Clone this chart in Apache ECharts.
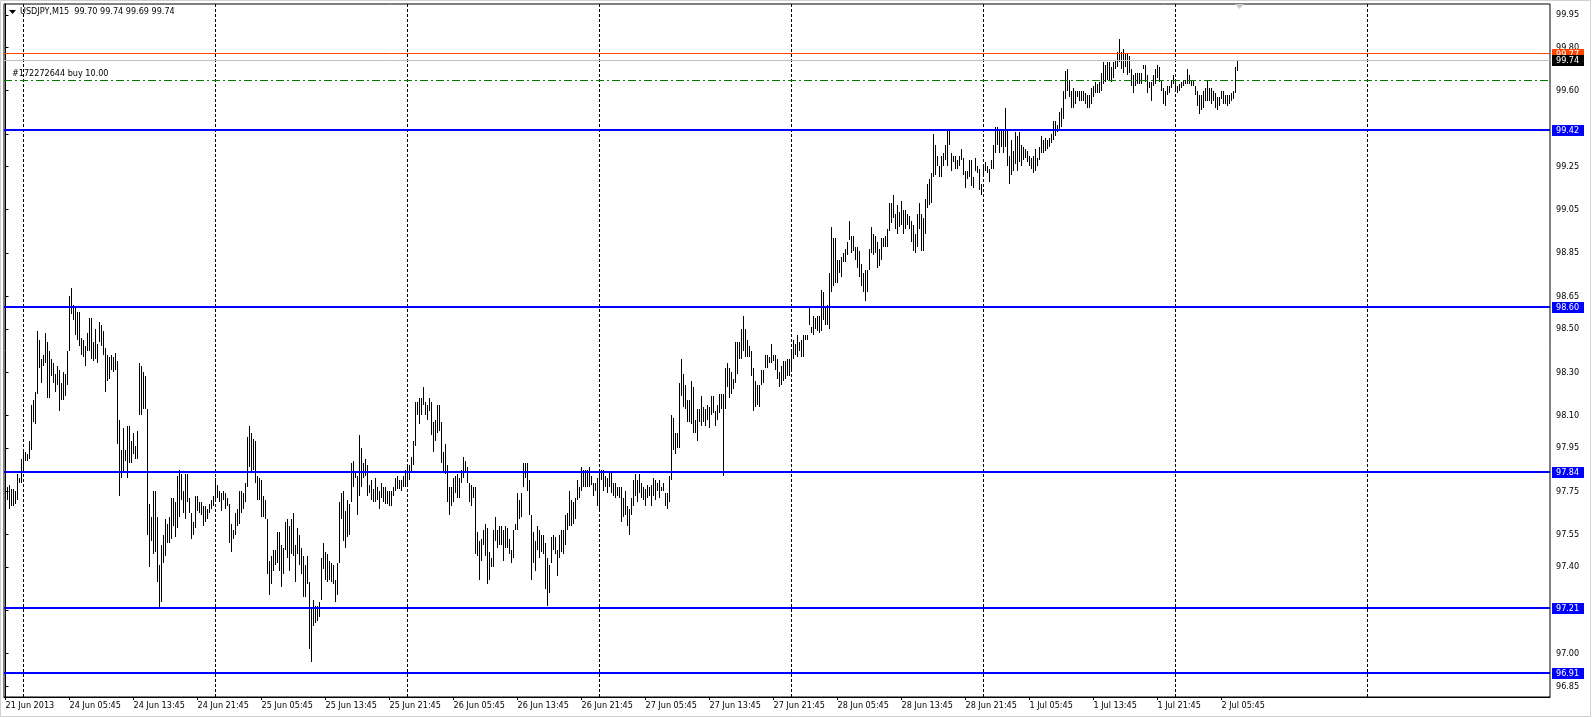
<!DOCTYPE html>
<html>
<head>
<meta charset="utf-8">
<script src="https://cdn.jsdelivr.net/npm/echarts@6/dist/echarts.min.js"></script>
<style>html,body{margin:0;padding:0;background:#fff;}#c{width:1592px;height:718px;}</style>
</head>
<body>
<div id="c"></div>
<script>
// ---- DATA ----
const symbolTitle = 'USDJPY,M15  99.70 99.74 99.69 99.74';
const orderText = '#172272644 buy 10.00';

// M15 bar highs (bar 0 = 21 Jun 2013 21:45)
const highs = [
97.77,97.77,97.78,97.76,97.76,97.75,97.83,97.81,97.90,97.93,
97.93,97.92,97.98,98.15,98.17,98.21,98.49,98.45,98.36,98.38,
98.48,98.44,98.40,98.36,98.34,98.29,98.33,98.31,98.25,98.30,
98.29,98.40,98.65,98.69,98.61,98.60,98.58,98.58,98.46,98.45,
98.42,98.48,98.55,98.55,98.44,98.50,98.43,98.53,98.52,98.49,
98.41,98.38,98.37,98.38,98.37,98.39,98.35,98.08,97.94,98.04,
97.94,98.05,98.05,97.98,98.02,97.96,98.03,98.34,98.33,98.30,
98.28,98.13,97.69,97.63,97.75,97.75,97.63,97.41,97.50,97.55,
97.62,97.60,97.63,97.72,97.72,97.70,97.82,97.85,97.83,97.75,
97.83,97.83,97.72,97.65,97.61,97.73,97.73,97.70,97.70,97.68,
97.68,97.67,97.69,97.71,97.73,97.81,97.78,97.75,97.74,97.75,
97.74,97.72,97.69,97.60,97.57,97.65,97.67,97.75,97.75,97.74,
97.79,98.00,98.05,98.02,97.99,97.98,97.82,97.81,97.80,97.73,
97.71,97.62,97.43,97.45,97.48,97.48,97.56,97.56,97.50,97.49,
97.61,97.62,97.59,97.62,97.65,97.50,97.58,97.55,97.49,97.45,
97.41,97.45,97.33,97.21,97.25,97.22,97.22,97.24,97.44,97.51,
97.47,97.46,97.43,97.42,97.41,97.34,97.42,97.70,97.74,97.75,
97.66,97.71,97.69,97.88,97.89,97.84,97.82,98.01,97.95,97.88,
97.90,97.87,97.78,97.80,97.76,97.81,97.77,97.75,97.79,97.77,
97.77,97.75,97.75,97.75,97.77,97.81,97.82,97.80,97.80,97.82,
97.85,97.87,97.87,97.91,97.98,98.16,98.16,98.18,98.18,98.23,
98.16,98.15,98.18,98.16,98.07,98.08,98.15,98.15,98.07,97.93,
97.97,97.87,97.77,97.77,97.81,97.82,97.83,97.81,97.85,97.91,
97.89,97.86,97.79,97.78,97.77,97.77,97.56,97.52,97.53,97.57,
97.60,97.58,97.47,97.44,97.57,97.63,97.57,97.59,97.59,97.57,
97.59,97.58,97.53,97.48,97.57,97.60,97.74,97.71,97.74,97.88,
97.88,97.88,97.80,97.64,97.56,97.52,97.59,97.57,97.55,97.55,
97.51,97.44,97.41,97.54,97.55,97.54,97.48,97.55,97.57,97.57,
97.64,97.65,97.75,97.71,97.70,97.72,97.80,97.77,97.86,97.85,
97.85,97.85,97.86,97.82,97.79,97.79,97.81,97.84,97.85,97.85,
97.82,97.81,97.84,97.84,97.79,97.79,97.77,97.77,97.77,97.72,
97.75,97.68,97.67,97.72,97.80,97.83,97.80,97.83,97.79,97.77,
97.76,97.78,97.77,97.78,97.81,97.80,97.79,97.80,97.77,97.79,
97.74,97.74,97.82,98.10,98.09,98.02,98.02,98.25,98.36,98.29,
98.24,98.17,98.17,98.26,98.23,98.08,98.13,98.13,98.19,98.14,
98.13,98.15,98.14,98.19,98.19,98.12,98.15,98.20,98.20,98.20,
98.32,98.34,98.32,98.30,98.27,98.44,98.44,98.44,98.50,98.56,
98.50,98.45,98.42,98.40,98.32,98.26,98.24,98.24,98.31,98.31,
98.38,98.38,98.37,98.43,98.38,98.38,98.36,98.30,98.33,98.35,
98.35,98.36,98.36,98.40,98.45,98.43,98.47,98.44,98.45,98.47,
98.47,98.47,98.60,98.51,98.56,98.55,98.56,98.56,98.68,98.67,
98.60,98.61,98.76,98.97,98.92,98.92,98.82,98.82,98.83,98.85,
98.87,98.90,99.00,98.93,98.93,98.88,98.88,98.86,98.80,98.76,
98.77,98.77,98.87,98.97,98.94,98.93,98.90,98.87,98.92,98.92,
98.93,98.96,99.08,99.08,99.12,99.03,99.07,99.04,99.09,99.05,
99.05,99.03,99.02,99.00,98.98,98.94,99.03,99.08,99.03,99.01,
99.10,99.17,99.19,99.22,99.40,99.35,99.30,99.25,99.30,99.31,
99.35,99.42,99.42,99.31,99.30,99.30,99.28,99.30,99.33,99.29,
99.23,99.23,99.28,99.28,99.20,99.29,99.25,99.24,99.17,99.26,
99.27,99.25,99.24,99.28,99.35,99.43,99.43,99.42,99.42,99.42,
99.52,99.42,99.30,99.37,99.32,99.41,99.39,99.41,99.35,99.34,
99.33,99.32,99.30,99.29,99.30,99.33,99.29,99.34,99.39,99.37,
99.38,99.37,99.38,99.40,99.46,99.46,99.44,99.50,99.52,99.60,
99.69,99.70,99.65,99.60,99.61,99.60,99.60,99.60,99.60,99.60,
99.59,99.58,99.58,99.61,99.62,99.64,99.63,99.64,99.68,99.73,
99.72,99.73,99.73,99.71,99.73,99.74,99.78,99.84,99.78,99.79,
99.77,99.77,99.76,99.70,99.67,99.68,99.68,99.68,99.68,99.72,
99.72,99.67,99.64,99.64,99.67,99.70,99.72,99.71,99.65,99.61,
99.60,99.62,99.62,99.65,99.67,99.64,99.62,99.63,99.64,99.65,
99.65,99.70,99.67,99.65,99.65,99.62,99.60,99.58,99.58,99.60,
99.61,99.65,99.61,99.61,99.60,99.59,99.57,99.57,99.60,99.60,
99.58,99.58,99.58,99.59,99.60,99.71,99.74
];

// M15 bar lows
const lows = [
97.67,97.71,97.67,97.68,97.68,97.69,97.71,97.79,97.79,97.84,
97.89,97.89,97.90,97.94,98.07,98.06,98.20,98.32,98.25,98.33,
98.34,98.18,98.18,98.28,98.25,98.21,98.24,98.12,98.17,98.17,
98.19,98.24,98.40,98.57,98.54,98.47,98.45,98.42,98.38,98.37,
98.33,98.40,98.40,98.36,98.35,98.36,98.34,98.44,98.42,98.38,
98.21,98.26,98.27,98.31,98.30,98.31,97.97,97.73,97.81,97.84,
97.89,97.81,97.88,97.88,97.92,97.90,97.90,98.10,98.10,98.13,
98.13,97.55,97.40,97.52,97.46,97.47,97.33,97.21,97.24,97.42,
97.45,97.51,97.51,97.53,97.59,97.54,97.58,97.63,97.71,97.65,
97.62,97.70,97.65,97.53,97.55,97.58,97.66,97.65,97.64,97.59,
97.61,97.62,97.65,97.67,97.68,97.70,97.72,97.70,97.66,97.71,
97.67,97.68,97.51,97.47,97.53,97.55,97.59,97.60,97.65,97.67,
97.70,97.77,97.86,97.84,97.85,97.79,97.71,97.71,97.63,97.63,
97.62,97.37,97.27,97.32,97.38,97.41,97.42,97.38,97.31,97.37,
97.48,97.44,97.38,97.46,97.45,97.33,97.46,97.41,97.37,97.26,
97.26,97.32,97.02,96.96,97.13,97.14,97.15,97.17,97.25,97.39,
97.34,97.33,97.34,97.33,97.32,97.24,97.27,97.42,97.62,97.52,
97.49,97.54,97.55,97.70,97.77,97.81,97.64,97.73,97.77,97.81,
97.82,97.73,97.74,97.71,97.70,97.70,97.71,97.67,97.72,97.70,
97.69,97.69,97.68,97.68,97.73,97.75,97.76,97.76,97.75,97.77,
97.77,97.77,97.80,97.84,97.87,97.96,98.10,98.06,98.10,98.15,
98.10,98.08,98.12,98.01,97.93,97.98,98.02,98.03,97.88,97.84,
97.83,97.70,97.64,97.68,97.70,97.74,97.72,97.72,97.79,97.81,
97.84,97.79,97.70,97.68,97.72,97.46,97.45,97.34,97.43,97.50,
97.45,97.32,97.34,97.40,97.40,97.52,97.49,97.50,97.50,97.43,
97.49,97.49,97.46,97.42,97.44,97.57,97.57,97.62,97.63,97.77,
97.81,97.75,97.64,97.34,97.42,97.38,97.48,97.44,97.47,97.46,
97.30,97.22,97.28,97.42,97.48,97.46,97.36,97.44,97.47,97.46,
97.50,97.57,97.59,97.59,97.60,97.62,97.71,97.72,97.75,97.77,
97.77,97.77,97.77,97.78,97.73,97.75,97.68,97.67,97.80,97.75,
97.77,97.74,97.77,97.74,97.73,97.72,97.73,97.72,97.61,97.63,
97.64,97.59,97.55,97.64,97.68,97.73,97.70,97.74,97.72,97.71,
97.68,97.72,97.73,97.68,97.73,97.71,97.75,97.72,97.75,97.75,
97.68,97.67,97.70,97.80,97.94,97.92,97.95,97.95,98.19,98.14,
98.13,98.07,98.07,98.06,98.02,98.02,97.98,98.07,98.05,98.07,
98.05,98.08,98.04,98.10,98.11,98.05,98.08,98.11,98.13,97.82,
98.13,98.23,98.18,98.20,98.22,98.25,98.29,98.36,98.36,98.40,
98.37,98.37,98.37,98.28,98.12,98.14,98.15,98.14,98.24,98.25,
98.32,98.32,98.34,98.34,98.35,98.31,98.27,98.23,98.24,98.26,
98.27,98.28,98.28,98.30,98.36,98.38,98.37,98.40,98.37,98.37,
98.45,98.45,98.52,98.48,98.47,98.50,98.49,98.48,98.49,98.54,
98.52,98.52,98.50,98.67,98.70,98.71,98.71,98.76,98.74,98.81,
98.81,98.84,98.91,98.85,98.86,98.82,98.78,98.74,98.70,98.67,
98.63,98.67,98.77,98.85,98.84,98.85,98.78,98.79,98.82,98.88,
98.88,98.88,98.95,98.99,99.01,98.96,98.94,98.97,98.98,98.94,
98.96,98.98,98.96,98.90,98.86,98.85,98.88,98.96,98.86,98.86,
98.94,99.06,99.07,99.08,99.20,99.21,99.25,99.20,99.20,99.25,
99.28,99.25,99.35,99.23,99.27,99.24,99.24,99.25,99.28,99.21,
99.15,99.19,99.20,99.16,99.15,99.23,99.22,99.14,99.12,99.20,
99.23,99.22,99.18,99.24,99.24,99.31,99.35,99.31,99.34,99.31,
99.34,99.25,99.17,99.21,99.23,99.26,99.23,99.27,99.25,99.28,
99.29,99.27,99.25,99.24,99.22,99.23,99.25,99.28,99.31,99.31,
99.32,99.33,99.34,99.36,99.37,99.39,99.41,99.42,99.43,99.47,
99.56,99.60,99.57,99.52,99.52,99.54,99.57,99.55,99.55,99.55,
99.54,99.52,99.52,99.54,99.57,99.59,99.59,99.59,99.60,99.63,
99.64,99.65,99.65,99.64,99.66,99.70,99.71,99.73,99.70,99.68,
99.71,99.67,99.68,99.62,99.59,99.62,99.63,99.63,99.63,99.70,
99.64,99.59,99.61,99.55,99.62,99.63,99.66,99.64,99.60,99.54,
99.53,99.58,99.59,99.61,99.63,99.60,99.59,99.60,99.61,99.62,
99.63,99.63,99.63,99.62,99.62,99.58,99.53,99.49,99.51,99.52,
99.55,99.55,99.55,99.54,99.55,99.52,99.51,99.53,99.56,99.54,
99.54,99.53,99.54,99.55,99.56,99.59,99.69
];

// time-axis labels, one every 32 bars (8 hours of M15)
const timeLabels = ['21 Jun 2013','24 Jun 05:45','24 Jun 13:45','24 Jun 21:45','25 Jun 05:45','25 Jun 13:45','25 Jun 21:45','26 Jun 05:45','26 Jun 13:45','26 Jun 21:45','27 Jun 05:45','27 Jun 13:45','27 Jun 21:45','28 Jun 05:45','28 Jun 13:45','28 Jun 21:45','1 Jul 05:45','1 Jul 13:45','1 Jul 21:45','2 Jul 05:45'];
const barsPerLabel = 32;
// day separators (bar index of each 00:00)
const daySeparatorBars = [9, 105, 201, 297, 393, 489, 585, 681];
const totalSlots = 773;

// price scale ticks
const priceTicks = [99.95, 99.80, 99.60, 99.40, 99.25, 99.05, 98.85, 98.65, 98.50, 98.30, 98.10, 97.95, 97.75, 97.55, 97.40, 97.20, 97.00, 96.85];
const priceMin = 96.80, priceMax = 100.00;

// horizontal levels
const supportLevels = [99.42, 98.60, 97.84, 97.21, 96.91];
const askLevel = 99.77;
const bidLevel = 99.74;
const orderLevel = 99.645;

// ---- CHART ----
const FONT = "'DejaVu Sans Condensed', 'DejaVu Sans', sans-serif";
const FS = 9;
const barData = highs.map((h, i) => [i, h, lows[i]]);
const labelBars = timeLabels.map((_, k) => k * barsPerLabel);

// level table built from the named values
const levelRows = [
  {value: orderLevel, kind: 'order'},
  {value: askLevel, kind: 'ask'},
  {value: bidLevel, kind: 'bid'}
].concat(supportLevels.map(v => ({value: v, kind: 'support'})));

const levelStyles = {
  order:   {stroke: '#008000', width: 1, dash: [8, 3, 2, 3], box: null},
  ask:     {stroke: '#FF4500', width: 1, dash: null, box: '#FF4500'},
  bid:     {stroke: '#C0C0C0', width: 1, dash: null, box: '#000000'},
  support: {stroke: '#0000FF', width: 2, dash: null, box: '#0000FF'}
};

const chart = echarts.init(document.getElementById('c'), null, {renderer: 'canvas'});

const option = {
  animation: false,
  backgroundColor: '#fff',
  title: {
    text: symbolTitle, left: 20, top: 7, padding: 0,
    textStyle: {fontFamily: FONT, fontSize: FS, fontWeight: 'normal', color: '#000'}
  },
  grid: {left: 4, top: 4, right: 42, bottom: 21, show: true, borderColor: '#000', borderWidth: 1},
  xAxis: {
    type: 'value', min: -0.75, max: totalSlots - 0.75,
    axisLine: {show: true, lineStyle: {color: '#000', width: 1}},
    axisTick: {show: true, customValues: labelBars, length: 3, lineStyle: {color: '#000'}},
    axisLabel: {
      customValues: labelBars, align: 'left', margin: 4,
      formatter: v => timeLabels[Math.round(v / barsPerLabel)] || '',
      color: '#000', fontFamily: FONT, fontSize: FS
    },
    splitLine: {show: false}
  },
  yAxis: {
    type: 'value', position: 'right', min: priceMin, max: priceMax,
    axisLine: {show: true, lineStyle: {color: '#000', width: 1}},
    axisTick: {show: true, customValues: priceTicks, length: 3, lineStyle: {color: '#000'}},
    axisLabel: {
      customValues: priceTicks, margin: 6,
      formatter: v => Number(v).toFixed(2),
      color: '#000', fontFamily: FONT, fontSize: FS
    },
    splitLine: {show: false}
  },
  series: [
    {
      type: 'line', data: [], z: 1, silent: true,
      markLine: {
        silent: true, symbol: 'none', animation: false,
        label: {show: false},
        lineStyle: {color: '#000', width: 1, type: [3, 2]},
        data: daySeparatorBars.map(b => ({xAxis: b}))
      }
    },
    {
      type: 'custom', z: 2, silent: true,
      data: barData,
      encode: {x: 0, y: [1, 2]},
      renderItem: function (params, api) {
        const i = api.value(0);
        const top = api.coord([i, api.value(1)]);
        const bot = api.coord([i, api.value(2)]);
        const x = Math.round(top[0] - 0.5) + 0.5;
        let y1 = Math.round(top[1]);
        let y2 = Math.round(bot[1]);
        if (y2 - y1 < 1) y2 = y1 + 1;
        return {type: 'line', shape: {x1: x, y1: y1, x2: x, y2: y2}, style: {stroke: '#000', lineWidth: 1}};
      }
    },
    {
      type: 'custom', z: 5, silent: true, clip: false,
      data: levelRows.map(r => [r.value]),
      encode: {y: 0},
      renderItem: function (params, api) {
        const row = levelRows[params.dataIndex];
        const st = levelStyles[row.kind];
        const cs = params.coordSys;
        const yRaw = api.coord([0, api.value(0)])[1];
        const yy = st.width % 2 === 1 ? Math.round(yRaw - 0.5) + 0.5 : Math.round(yRaw);
        const children = [{
          type: 'line',
          shape: {x1: cs.x, y1: yy, x2: cs.x + cs.width, y2: yy},
          style: {stroke: st.stroke, lineWidth: st.width, lineDash: st.dash}
        }];
        const yc = Math.round(yRaw);
        if (st.box) {
          const bx = cs.x + cs.width + 2;
          children.push({type: 'rect', shape: {x: bx, y: yc - 5, width: 32, height: 11}, style: {fill: st.box}});
          children.push({type: 'text', x: bx + 4, y: yc + 0.5,
            style: {text: api.value(0).toFixed(2), fill: '#fff', font: FS + 'px ' + FONT, verticalAlign: 'middle', align: 'left'}});
        }
        if (row.kind === 'order') {
          children.push({type: 'text', x: cs.x + 8, y: yy - 2,
            style: {text: orderText, fill: '#000', font: FS + 'px ' + FONT, verticalAlign: 'bottom', align: 'left'}});
        }
        return {type: 'group', children: children};
      }
    }
  ],
  graphic: [
    {type: 'polygon', silent: true, shape: {points: [[9, 10], [16, 10], [12.5, 14]]}, style: {fill: '#000'}},
    {type: 'polygon', silent: true, shape: {points: [[1235, 4], [1244, 4], [1239.5, 9]]}, style: {fill: '#c8c8c8'}},
    {type: 'rect', silent: true, shape: {x: 0.5, y: 0.5, width: 1590, height: 716}, style: {fill: null, stroke: '#d0d0d0', lineWidth: 1}}
  ]
};
chart.setOption(option);
</script>
</body>
</html>
